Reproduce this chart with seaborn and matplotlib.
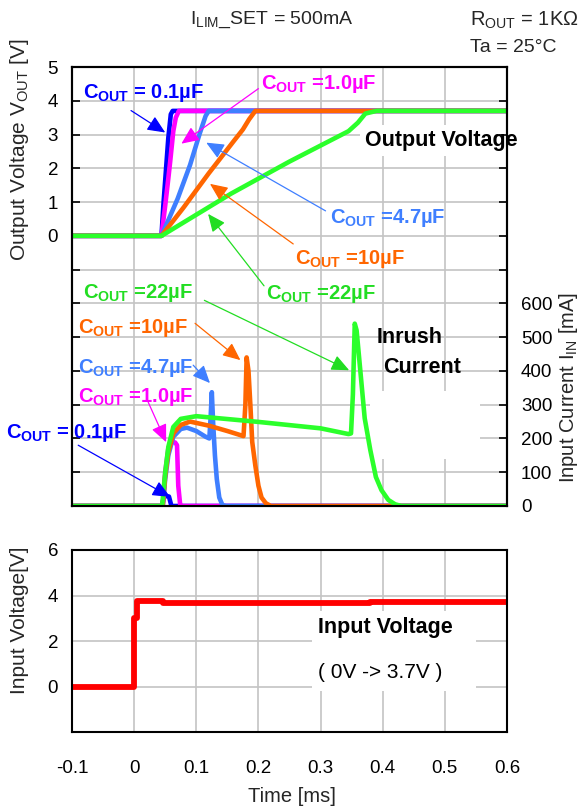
import numpy as np
import pandas as pd
import matplotlib
matplotlib.use("Agg")
import matplotlib.pyplot as plt
from matplotlib.patches import Rectangle
import seaborn as sns

# ---------------- data ----------------
caps = ["0.1µF", "1.0µF", "4.7µF", "10µF", "22µF"]
line_colors = ["#0000ff", "#ff00ff", "#3f7fff", "#ff6600", "#2bff2b"]
text_colors = ["#0000ff", "#ff00ff", "#3f7fff", "#ff6600", "#22dd22"]

# Output voltage VOUT [V] against time [ms]
vout_t_01 = [-0.1, 0.044, 0.047, 0.051, 0.055, 0.059, 0.062, 0.6]
vout_v_01 = [0, 0, 0.9, 1.9, 2.9, 3.6, 3.7, 3.7]
vout_t_10 = [-0.1, 0.044, 0.050, 0.055, 0.058, 0.063, 0.067, 0.072, 0.6]
vout_v_10 = [0, 0, 0.9, 1.7, 2.2, 3.1, 3.5, 3.7, 3.7]
vout_t_47 = [-0.1, 0.044, 0.070, 0.090, 0.105, 0.115, 0.120, 0.6]
vout_v_47 = [0, 0, 1.1, 2.1, 3.0, 3.55, 3.7, 3.7]
vout_t_100 = [-0.1, 0.044, 0.080, 0.120, 0.160, 0.175, 0.185, 0.195, 0.6]
vout_v_100 = [0, 0, 0.85, 1.85, 2.8, 3.15, 3.45, 3.7, 3.7]
vout_t_220 = [-0.1, 0.044, 0.156, 0.250, 0.345, 0.360, 0.372, 0.390, 0.6]
vout_v_220 = [0, 0, 1.25, 2.2, 3.1, 3.35, 3.62, 3.7, 3.7]

# Input current IIN [mA] against time [ms]
iin_t_01 = [-0.1, 0.045, 0.048, 0.056, 0.060, 0.6]
iin_i_01 = [0, 0, 30, 28, 0, 0]
iin_t_10 = [-0.1, 0.046, 0.050, 0.055, 0.060, 0.066, 0.069, 0.071, 0.074, 0.077, 0.6]
iin_i_10 = [0, 0, 100, 170, 190, 188, 180, 60, 5, 0, 0]
iin_t_47 = [-0.1, 0.046, 0.050, 0.055, 0.063, 0.075, 0.085, 0.100, 0.115, 0.121,
            0.123, 0.125, 0.127, 0.130, 0.133, 0.137, 0.142, 0.148, 0.6]
iin_i_47 = [0, 0, 80, 150, 205, 228, 232, 222, 205, 200,
            260, 337, 250, 150, 80, 25, 3, 0, 0]
iin_t_100 = [-0.1, 0.046, 0.050, 0.055, 0.063, 0.075, 0.090, 0.120, 0.150, 0.176,
             0.179, 0.181, 0.184, 0.187, 0.190, 0.195, 0.200, 0.205, 0.212, 0.220, 0.6]
iin_i_100 = [0, 0, 90, 160, 215, 240, 250, 238, 222, 207,
             300, 440, 400, 300, 190, 120, 60, 25, 8, 0, 0]
iin_t_220 = [-0.1, 0.045, 0.050, 0.055, 0.063, 0.075, 0.100, 0.200, 0.300, 0.345,
             0.349, 0.352, 0.355, 0.358, 0.364, 0.371, 0.380, 0.389, 0.398, 0.409,
             0.420, 0.430, 0.6]
iin_i_220 = [0, 0, 100, 175, 234, 258, 266, 249, 230, 213,
             215, 330, 540, 520, 400, 260, 166, 86, 47, 18,
             5, 0, 0]

# Input voltage VIN [V] against time [ms]
vin_t = [-0.1, 0.0, 0.0, 0.004, 0.004, 0.047, 0.047, 0.38, 0.38, 0.6]
vin_v = [0, 0, 3.0, 3.0, 3.78, 3.78, 3.66, 3.66, 3.72, 3.72]

# axis ticks
time_ticks = [-0.1, 0.0, 0.1, 0.2, 0.3, 0.4, 0.5, 0.6]
time_labels = ["-0.1", "0", "0.1", "0.2", "0.3", "0.4", "0.5", "0.6"]
vout_ticks = list(range(-8, 6))
iin_ticks = list(range(0, 1301, 100))
vin_ticks = [-2, 0, 2, 4, 6]

vout_df = pd.concat([
    pd.DataFrame({"t": t, "v": v, "C_OUT": c})
    for t, v, c in zip([vout_t_01, vout_t_10, vout_t_47, vout_t_100, vout_t_220],
                       [vout_v_01, vout_v_10, vout_v_47, vout_v_100, vout_v_220], caps)
], ignore_index=True)
iin_df = pd.concat([
    pd.DataFrame({"t": t, "i": i, "C_OUT": c})
    for t, i, c in zip([iin_t_01, iin_t_10, iin_t_47, iin_t_100, iin_t_220],
                       [iin_i_01, iin_i_10, iin_i_47, iin_i_100, iin_i_220], caps)
], ignore_index=True)
vin_df = pd.DataFrame({"t": vin_t, "v": vin_v})

# ---------------- style ----------------
sns.set_theme(style="white")
plt.rcParams["font.family"] = ["Liberation Sans", "DejaVu Sans"]
plt.rcParams["mathtext.fontset"] = "custom"
plt.rcParams["mathtext.rm"] = "Liberation Sans"
plt.rcParams["mathtext.bf"] = "Liberation Sans:bold"
plt.rcParams["mathtext.it"] = "Liberation Sans:italic"

W, H = 583, 810
fig = plt.figure(figsize=(W / 100, H / 100), dpi=100, facecolor="white")


def rect(left, top, right, bottom):
    return [left / W, 1 - bottom / H, (right - left) / W, (bottom - top) / H]


ax1 = fig.add_axes(rect(72, 67, 507, 506))
ax2 = ax1.twinx()
ax3 = fig.add_axes(rect(72, 550, 507, 732))

palette = dict(zip(caps, line_colors))
sns.lineplot(data=vout_df, x="t", y="v", hue="C_OUT", hue_order=caps, palette=palette,
             estimator=None, sort=False, lw=3.3, legend=False, ax=ax1, zorder=2)
sns.lineplot(data=iin_df, x="t", y="i", hue="C_OUT", hue_order=caps, palette=palette,
             estimator=None, sort=False, lw=3.3, legend=False, ax=ax2, zorder=2)
sns.lineplot(data=vin_df, x="t", y="v", color="#ff0000", estimator=None, sort=False,
             lw=4.2, ax=ax3, zorder=2)

grid_kw = dict(color="#c4c4c4", lw=1.2)
tick_kw = dict(direction="in", length=6, width=1.2, color="black", labelsize=13.5,
               labelcolor="black")

# top panel: VOUT on the left, IIN on the right
ax1.set_xlim(-0.1, 0.6)
ax1.set_ylim(-8, 5)
ax2.set_ylim(0, 1300)
ax1.set_xticks(time_ticks)
ax1.set_xticklabels([])
ax1.set_yticks(vout_ticks)
ax1.set_yticklabels([str(v) if v >= 0 else "" for v in vout_ticks])
ax2.set_yticks(iin_ticks)
ax2.set_yticklabels([str(v) if v <= 600 else "" for v in iin_ticks])
ax1.grid(True, **grid_kw)
ax1.set_axisbelow(True)
ax1.tick_params(axis="both", pad=10, **tick_kw)
ax2.tick_params(axis="y", pad=10, **tick_kw)
for ax in (ax1, ax2):
    ax.set_xlabel("")
    ax.set_ylabel("")

# bottom panel: VIN
ax3.set_xlim(-0.1, 0.6)
ax3.set_ylim(-2, 6)
ax3.set_xticks(time_ticks)
ax3.set_xticklabels(time_labels)
ax3.set_yticks(vin_ticks)
ax3.set_yticklabels(["" if v < 0 else str(v) for v in vin_ticks])
ax3.grid(True, **grid_kw)
ax3.set_axisbelow(True)
ax3.tick_params(axis="y", pad=10, **tick_kw)
ax3.tick_params(axis="x", pad=20, **tick_kw)
ax3.set_xlabel("")
ax3.set_ylabel("")

for ax in (ax1, ax2, ax3):
    for s in ax.spines.values():
        s.set_color("black")
        s.set_linewidth(1.5)
        s.set_visible(True)

# ---------------- annotations ----------------
arrow_style = "-|>,head_length=0.9,head_width=0.4"


def callout(ax, text, color, text_xy, start, tip, ha="left"):
    ax.text(text_xy[0], text_xy[1], text, color=color, fontsize=14.5, fontweight="bold",
            ha=ha, va="center", zorder=6, clip_on=False)
    ax.annotate("", xy=tip, xytext=start, zorder=6, annotation_clip=False,
                arrowprops=dict(arrowstyle=arrow_style, mutation_scale=12, color=color,
                                lw=0.9, shrinkA=0, shrinkB=0))


sub = r"C$_{\mathregular{OUT}}$"
# output voltage callouts
callout(ax1, sub + " = 0.1µF", text_colors[0], (-0.082, 4.24), (-0.005, 3.71), (0.050, 3.06))
callout(ax1, sub + " =1.0µF", text_colors[1], (0.204, 4.51), (0.200, 4.36), (0.076, 2.73))
callout(ax1, sub + " =4.7µF", text_colors[2], (0.315, 0.53), (0.308, 0.74), (0.116, 2.76))
callout(ax1, sub + " =10µF", text_colors[3], (0.259, -0.68), (0.256, -0.24), (0.122, 1.54))
callout(ax1, sub + " =22µF", text_colors[4], (0.212, -1.72), (0.209, -1.48), (0.119, 0.65))
# input current callouts
callout(ax2, sub + " =22µF", text_colors[4], (-0.082, 630), (0.113, 609), (0.346, 402))
callout(ax2, sub + " =10µF", text_colors[3], (-0.090, 527), (0.098, 541), (0.171, 432))
callout(ax2, sub + " =4.7µF", text_colors[2], (-0.090, 408), (0.095, 417), (0.122, 364))
callout(ax2, sub + " =1.0µF", text_colors[1], (-0.090, 322), (0.0225, 308), (0.0515, 189))
callout(ax2, sub + " = 0.1µF", text_colors[0], (-0.206, 216), (-0.090, 180), (0.058, 27))

ax1.text(0.372, 2.82, "Output Voltage", fontsize=15.5, fontweight="bold", color="black",
         ha="left", va="center", zorder=1.5,
         bbox=dict(boxstyle="square,pad=0.25", fc="white", ec="none"))
ax1.add_patch(Rectangle((0.38, -6.6), 0.177, 6.6 - 4.6, fc="white", ec="none", zorder=1))
ax2.text(0.391, 500, "Inrush", fontsize=15.5, fontweight="bold", color="black",
         ha="left", va="center", zorder=5)
ax2.text(0.401, 411, "Current", fontsize=15.5, fontweight="bold", color="black",
         ha="left", va="center", zorder=5)

ax3.add_patch(Rectangle((0.287, -0.2), 0.263, 3.5, fc="white", ec="none", zorder=1))
ax3.text(0.296, 2.59, "Input Voltage", fontsize=15.5, fontweight="bold", color="black",
         ha="left", va="center", zorder=3)
ax3.text(0.296, 0.61, "( 0V -> 3.7V )", fontsize=15, color="black",
         ha="left", va="center", zorder=3)

# ---------------- figure texts ----------------
fig.text(272 / W, 1 - 20 / H, r"I$_{\mathregular{LIM}}$_SET = 500mA", fontsize=14,
         ha="center", va="center")
fig.text(470 / W, 1 - 20 / H, r"R$_{\mathregular{OUT}}$ = 1KΩ", fontsize=14.5,
         ha="left", va="center")
fig.text(470 / W, 1 - 47 / H, "Ta = 25°C", fontsize=14, ha="left", va="center")
fig.text(20 / W, 1 - 150 / H, r"Output Voltage V$_{\mathregular{OUT}}$ [V]", fontsize=15,
         rotation=90, ha="center", va="center")
fig.text(569 / W, 1 - 387 / H, r"Input Current I$_{\mathregular{IN}}$ [mA]", fontsize=14.5,
         rotation=90, ha="center", va="center")
fig.text(20 / W, 1 - 620 / H, "Input Voltage[V]", fontsize=15,
         rotation=90, ha="center", va="center")
fig.text(292 / W, 1 - 796 / H, "Time [ms]", fontsize=14.5, ha="center", va="center")

fig.savefig("out.png", dpi=100, facecolor="white")
